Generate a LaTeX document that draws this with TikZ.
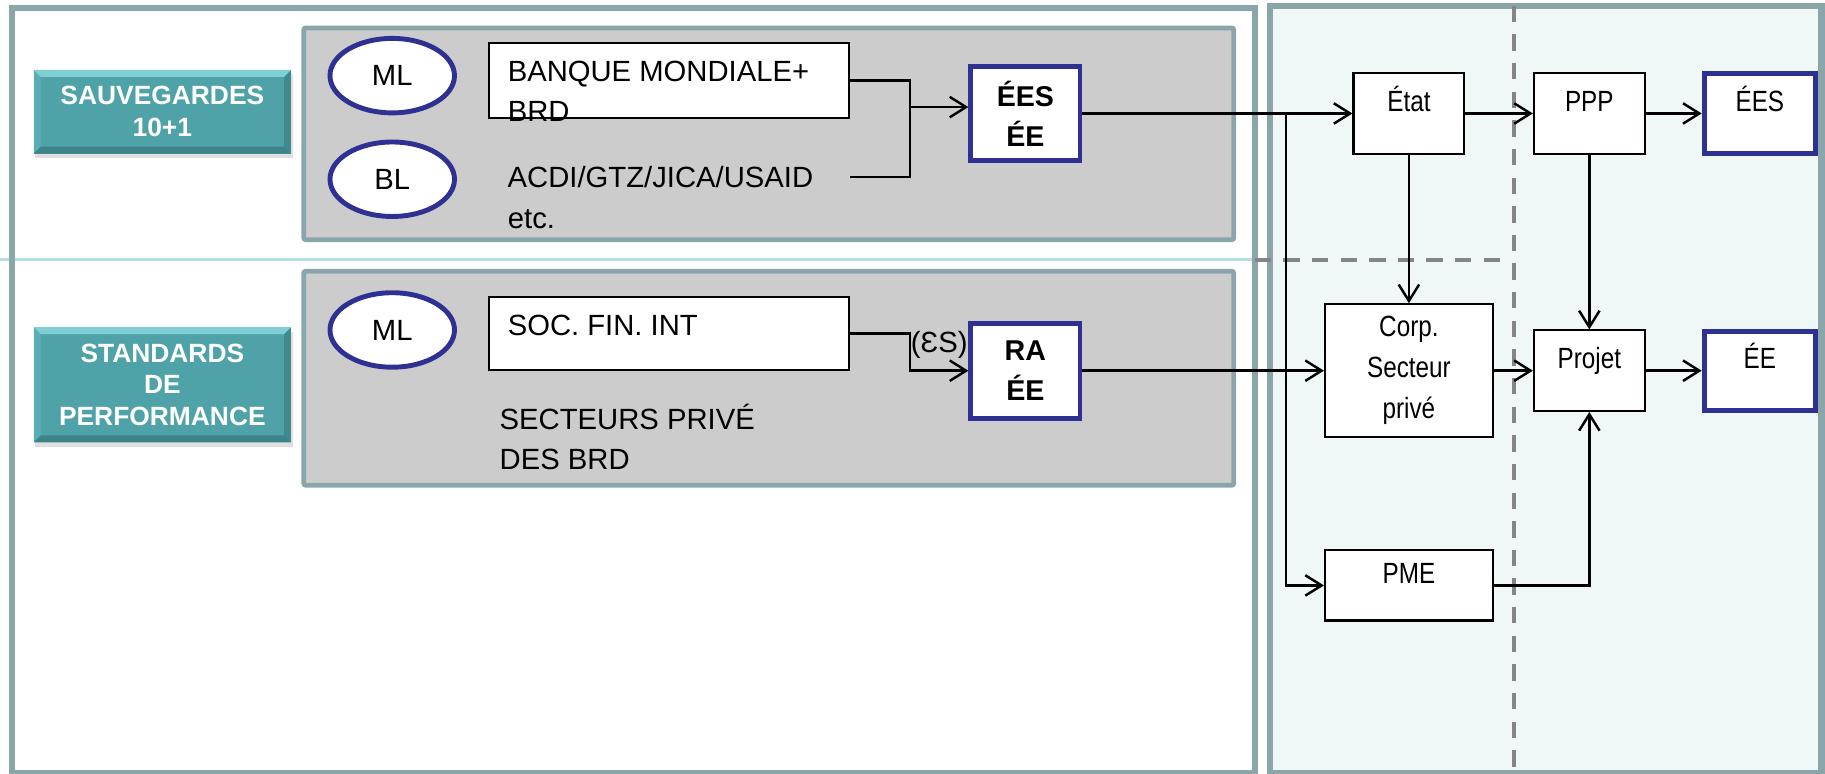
\documentclass[tikz,border=0pt]{standalone}
\usepackage{fontspec}
\setmainfont{Liberation Sans}
\newfontfamily\narrowsans[FakeStretch=0.83]{Liberation Sans}
\usepackage{xcolor}
\usetikzlibrary{arrows.meta, shapes, shadows, backgrounds}

\definecolor{framegray}{HTML}{8BA6A9}
\definecolor{panel}{HTML}{EFF8F7}
\definecolor{boxgray}{HTML}{CCCCCC}
\definecolor{tealbox}{HTML}{4FA3A8}
\definecolor{tealhi}{HTML}{80CFD5}
\definecolor{tealside}{HTML}{5AAEB3}
\definecolor{teallo}{HTML}{3C8489}
\definecolor{navy}{HTML}{2E3192}
\definecolor{cyanline}{HTML}{B3DEE2}
\definecolor{dashgray}{HTML}{858585}

\begin{document}
\begin{tikzpicture}[x=0.02cm, y=-0.02cm,
  background rectangle/.style={fill=white}, show background rectangle, inner frame sep=0pt,
  >={Straight Barb[length=8pt, width=10pt]},
  every node/.style={font=\fontsize{14.3}{19.5}\selectfont}]
\useasboundingbox (0,0) rectangle (1568,665);

\draw[cyanline, line width=1.2pt] (0,223) -- (1078,223);
\draw[framegray, line width=3pt] (10,7) rectangle (1078,664);
\draw[framegray, line width=3pt, fill=panel] (1091,5) rectangle (1565,664);
\draw[framegray, line width=2.3pt, fill=boxgray, rounded corners=1pt] (261,24) rectangle (1060,206);
\draw[framegray, line width=2.3pt, fill=boxgray, rounded corners=1pt] (261,233) rectangle (1060,417);
\draw[dashgray, line width=2pt, dash pattern=on 8pt off 6pt] (1078,223) -- (1293,223) (1301,5) -- (1301,664);

\begin{scope}[tag/.style={fill=tealbox, text=white, align=center, inner sep=0pt,
      font=\bfseries\fontsize{12.9}{15.5}\selectfont, minimum width=4.42cm,
      drop shadow={opacity=0.25, shadow xshift=0.8pt, shadow yshift=-2.2pt},
      path picture={
        \fill[tealside] (path picture bounding box.north west) -- ([shift={(3.4pt,-3.4pt)}]path picture bounding box.north west)
          -- ([shift={(3.4pt,3.4pt)}]path picture bounding box.south west) -- (path picture bounding box.south west) -- cycle;
        \fill[teallo!80!tealbox] (path picture bounding box.north east) -- ([shift={(-3.4pt,-3.4pt)}]path picture bounding box.north east)
          -- ([shift={(-3.4pt,3.4pt)}]path picture bounding box.south east) -- (path picture bounding box.south east) -- cycle;
        \fill[tealhi] (path picture bounding box.north west) -- (path picture bounding box.north east)
          -- ++(-3.4pt,-3.4pt) -- ([shift={(3.4pt,-3.4pt)}]path picture bounding box.north west) -- cycle;
        \fill[teallo] (path picture bounding box.south west) -- (path picture bounding box.south east)
          -- ++(-3.4pt,3.4pt) -- ([shift={(3.4pt,3.4pt)}]path picture bounding box.south west) -- cycle;}}]
  \node[tag, minimum height=1.44cm] (sauv) at (139.5,96) {SAUVEGARDES\\10+1};
  \node[tag, minimum height=1.98cm] (stand) at (139.5,330.5) {STANDARDS\\DE\\PERFORMANCE};
\end{scope}

\begin{scope}[ell/.style={ellipse, draw=navy, line width=2.4pt, fill=white, minimum width=2.14cm, minimum height=1.28cm},
              wbox/.style={draw, line width=1pt, fill=white, minimum width=6.185cm},
              lbl/.style={anchor=north west, align=left, inner xsep=9.6pt, inner ysep=9.2pt},
              bbox/.style={draw=navy, line width=2.4pt, fill=white, align=center, minimum width=1.875cm,
                font=\bfseries\fontsize{14}{19.5}\selectfont}]
  \node[ell] (ml1) at (337,65) {ML};
  \node[ell] (bl) at (337,154) {BL};
  \node[ell] (ml2) at (337,283.5) {ML};
  \node[wbox, minimum height=1.285cm, label={[lbl]north west:{BANQUE MONDIALE+\\BRD}}] (bm) at (574.5,69) {};
  \node[anchor=west, text width=5.545cm, inner xsep=9.6pt, align=left] (acdi) at (419,152) {ACDI/GTZ/JICA/USAID};
  \node[anchor=west, inner sep=0pt] (etc) at (436,188) {etc.};
  \node[wbox, minimum height=1.265cm, label={[lbl]north west:{SOC. FIN. INT}}] (sfi) at (574.5,286.5) {};
  \node[anchor=west, inner sep=0pt, align=left] (secpriv) at (429,375.5) {SECTEURS PRIVÉ\\DES BRD};
  \node[bbox, minimum height=1.615cm] (ees1) at (881,97.5) {ÉES\\ÉE};
  \node[bbox, minimum height=1.635cm] (ra) at (881,318.5) {RA\\ÉE};
\end{scope}

\begin{scope}[rbox/.style={draw, line width=1pt, fill=white, align=center, minimum width=1.905cm, minimum height=1.385cm,
                font=\narrowsans\fontsize{14.3}{20}\selectfont},
              up/.style={text height=0.36cm, text depth=0.42cm},
              blue/.style={draw=navy, line width=2.4pt, minimum width=1.915cm}]
  \node[rbox, up] (etat) at (1210.5,97.5) {État};
  \node[rbox, up] (ppp) at (1365.5,97.5) {PPP};
  \node[rbox, up, blue, minimum height=1.375cm] (ees2) at (1512,97.5) {ÉES};
  \node[rbox, minimum width=2.885cm, minimum height=2.285cm] (corp) at (1210.5,318.5) {Corp.\\Secteur\\privé};
  \node[rbox, up] (proj) at (1365.5,318.5) {Projet};
  \node[rbox, up, blue, minimum height=1.355cm] (ee2) at (1512,318.5) {ÉE};
  \node[rbox, up, minimum width=2.885cm, minimum height=1.205cm] (pme) at (1210.5,503) {PME};
\end{scope}

\coordinate (joinA) at (782,92);
\coordinate (joinB) at (782,318.5);
\coordinate (split) at (1105,97.5);

\begin{scope}[line width=1.2pt, every edge/.style={draw=black, line width=1.2pt}]
  \draw (bm.east) -| (joinA) |- (acdi.east);
  \draw[->] (joinA) -- (ees1.west |- joinA);
  \draw[->] (sfi.east) -| (joinB) -- node[above=1.8mm, inner sep=0pt] (es) {(ƐS)} (ra.west);
  \path[->] (ees1) edge (etat)
            (ra) edge (corp)
            (etat) edge (ppp)
            (ppp) edge (ees2)
            (corp) edge (proj)
            (proj) edge (ee2)
            (etat) edge (corp)
            (ppp) edge (proj);
  \draw[->] (split) |- (pme.west);
  \draw[->] (pme.east) -| (proj.south);
\end{scope}

\end{tikzpicture}
\end{document}
